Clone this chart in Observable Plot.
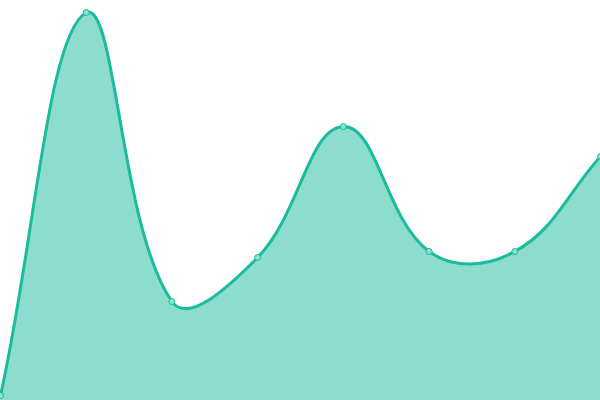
<!DOCTYPE html>
<html>
<head>
<meta charset="utf-8">
<script src="https://cdn.jsdelivr.net/npm/d3@7"></script>
<script src="https://cdn.jsdelivr.net/npm/@observablehq/plot@0.6"></script>
<style>
html, body { margin: 0; padding: 0; background: #fff; overflow: hidden; }
#chart svg { display: block; overflow: hidden; }
</style>
</head>
<body>
<div id="chart"></div>
<script>
const xs = [0, 1, 2, 3, 4, 5, 6, 7];
const values = [1.25, 97, 24.75, 35.75, 68.5, 37.25, 37.25, 61];
const data = xs.map((x, i) => ({x, y: values[i]}));

// Spline curve with distance-weighted control points (tension 0.4)
function splineCurve(tension, x0, y0, x1, y1) {
  function Curve(context) { this._context = context; }
  Curve.prototype = {
    areaStart() { this._line = 0; },
    areaEnd() { this._line = NaN; },
    lineStart() { this._pts = []; },
    point(x, y) { this._pts.push([+x, +y]); },
    lineEnd() {
      const p = this._pts, n = p.length, ctx = this._context;
      if (n) {
        if (this._line) ctx.lineTo(p[0][0], p[0][1]); else ctx.moveTo(p[0][0], p[0][1]);
        const cps = p.map((cur, i) => {
          const prev = p[Math.max(i - 1, 0)], next = p[Math.min(i + 1, n - 1)];
          const d01 = Math.hypot(cur[0] - prev[0], cur[1] - prev[1]);
          const d12 = Math.hypot(next[0] - cur[0], next[1] - cur[1]);
          let s01 = d01 / (d01 + d12), s12 = d12 / (d01 + d12);
          if (isNaN(s01)) s01 = 0; if (isNaN(s12)) s12 = 0;
          const fa = tension * s01, fb = tension * s12;
          const cl = (v, a, b) => Math.max(a, Math.min(b, v));
          return {
            px: cl(cur[0] - fa * (next[0] - prev[0]), x0, x1),
            py: cl(cur[1] - fa * (next[1] - prev[1]), y0, y1),
            nx: cl(cur[0] + fb * (next[0] - prev[0]), x0, x1),
            ny: cl(cur[1] + fb * (next[1] - prev[1]), y0, y1)
          };
        });
        for (let i = 1; i < n; ++i) {
          ctx.bezierCurveTo(cps[i - 1].nx, cps[i - 1].ny, cps[i].px, cps[i].py, p[i][0], p[i][1]);
        }
      }
      if (this._line || (this._line !== 0 && n === 1)) ctx.closePath();
      this._line = 1 - this._line;
    }
  };
  return (context) => new Curve(context);
}
const curve = splineCurve(0.4, 0, 0, 600, 400);

const chart = Plot.plot({
  width: 600,
  height: 400,
  margin: 0,
  x: {domain: [0, 7], range: [0, 600], axis: null},
  y: {domain: [0, 100], range: [400, 0], axis: null},
  marks: [
    Plot.areaY(data, {x: "x", y: "y", curve, fill: "#1abc9c", fillOpacity: 0.5}),
    Plot.lineY(data, {x: "x", y: "y", curve, stroke: "#1abc9c", strokeWidth: 3}),
    Plot.dot(data, {x: "x", y: "y", r: 3, fill: "#8ce0d0", stroke: "#1abc9c", strokeWidth: 1})
  ]
});
document.getElementById("chart").appendChild(chart);
</script>
</body>
</html>
